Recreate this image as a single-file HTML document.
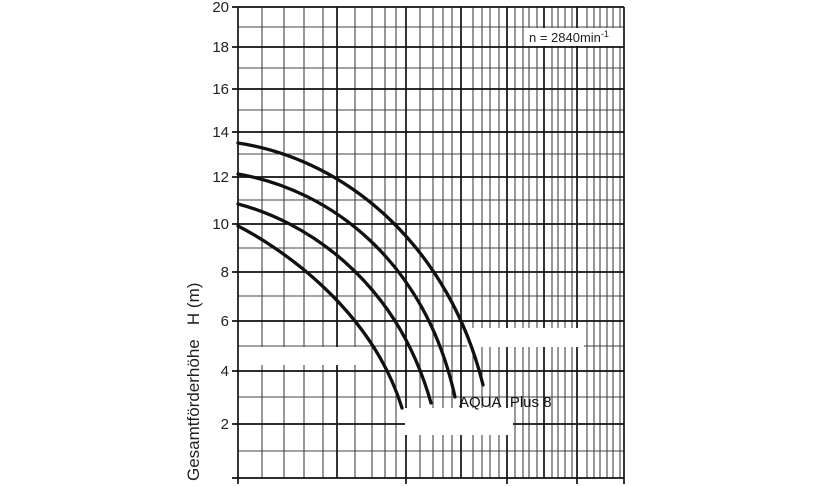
<!DOCTYPE html>
<html><head><style>
html,body{margin:0;padding:0;background:#fff;}
svg{display:block;font-family:"Liberation Sans",sans-serif;}
</style></head><body>
<svg width="824" height="486" viewBox="0 0 824 486" xmlns="http://www.w3.org/2000/svg">
<rect width="824" height="486" fill="#fff"/>
<g stroke="#444" stroke-width="1.1" fill="none">
<path d="M238 27H624M238 68H624M238 110H624M238 154H624M238 200H624M238 248H624M238 296H624M238 346H624M238 397H624M238 451H624"/>
<path d="M262 7V478M284 7V478M304 7V478M323 7V478M355 7V478M372 7V478M385 7V478M396 7V478M420 7V478M433 7V478M443 7V478M452 7V478M473 7V478M482 7V478M490 7V478M499 7V478M515 7V478M523 7V478M529 7V478M537 7V478M552 7V478M558 7V478M565 7V478M572 7V478M587 7V478M594 7V478M600 7V478M607 7V478M613 7V478M620 7V478"/>
</g>
<g stroke="#111" stroke-width="1.7" fill="none">
<path d="M232 7H624M232 47H624M232 89H624M232 132H624M232 177H624M232 224H624M232 272H624M232 321H624M232 371H624M232 424H624M232 478H624"/>
<path d="M238 7V484M337 7V478M406 7V484M461 7V478M507 7V484M544 7V478M577 7V484M624 7V484"/>
</g>
<rect x="240" y="347" width="130" height="18" fill="#fff"/>
<rect x="467" y="328" width="117" height="19" fill="#fff"/>
<rect x="405" y="408" width="108" height="27" fill="#fff"/>
<rect x="527" y="28" width="96" height="18" fill="#fff"/>
<text x="529" y="42" font-size="13" fill="#222">n = 2840min<tspan font-size="9" dy="-5">-1</tspan></text>
<g stroke="#111" stroke-width="3.3" fill="none" stroke-linecap="round">
<path d="M238 143 C350 160 450 250 483 385"/>
<path d="M238 174 C330 190 425 260 455 397"/>
<path d="M238 204 C300 220 395 275 431 403"/>
<path d="M238 226 C275 245 370 305 402 408"/>
</g>
<text x="459" y="407" font-size="15" fill="#111">AQUA&#160; Plus 8</text>
<g font-size="15" fill="#222" text-anchor="end">
<text x="229" y="12">20</text><text x="229" y="52">18</text><text x="229" y="94">16</text>
<text x="229" y="137">14</text><text x="229" y="182">12</text><text x="229" y="229">10</text>
<text x="229" y="277">8</text><text x="229" y="326">6</text><text x="229" y="376">4</text>
<text x="229" y="429">2</text>
</g>
<text transform="translate(199,481) rotate(-90)" font-size="17" fill="#222">Gesamtförderhöhe&#160;&#160; H (m)</text>
</svg>
</body></html>
